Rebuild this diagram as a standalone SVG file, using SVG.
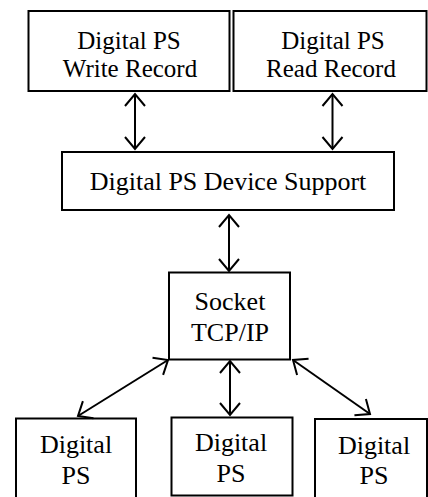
<svg xmlns="http://www.w3.org/2000/svg" width="428" height="497" viewBox="0 0 428 497">
<style>
.box{fill:#fff;stroke:#000;stroke-width:2}
.t{font-family:"Liberation Serif","Times New Roman",serif;font-size:26px;fill:#000;text-anchor:middle}
.t2{font-size:25px}
.c{stroke:#000;stroke-width:2;fill:none;marker-start:url(#ah);marker-end:url(#ah)}
</style>
<defs>
<marker id="ah" markerUnits="userSpaceOnUse" markerWidth="30" markerHeight="30" viewBox="-15 -15 30 30" refX="0" refY="0" orient="auto-start-reverse">
<path d="M-12,-10 L0,0 L-12,10" fill="none" stroke="#000" stroke-width="2"/>
</marker>
</defs>
<rect width="428" height="497" fill="#fff"/>
<g id="write-record">
<rect class="box" x="28.5" y="11" width="201" height="80"/>
<text class="t t2" x="129" y="49">Digital PS</text>
<text class="t t2" x="130" y="77">Write Record</text>
</g>
<g id="read-record">
<rect class="box" x="233.5" y="11" width="193" height="80"/>
<text class="t t2" x="333" y="49">Digital PS</text>
<text class="t t2" x="331" y="77">Read Record</text>
</g>
<g id="device-support">
<rect class="box" x="62" y="152" width="332" height="58"/>
<text class="t" x="228" y="190">Digital PS Device Support</text>
</g>
<g id="socket">
<rect class="box" x="169" y="272.5" width="121" height="87"/>
<text class="t" x="230" y="310">Socket</text>
<text class="t" x="230" y="341">TCP/IP</text>
</g>
<g id="ps1">
<rect class="box" x="16" y="418.5" width="120" height="85"/>
<text class="t" x="76" y="453">Digital</text>
<text class="t" x="76" y="484">PS</text>
</g>
<g id="ps2">
<rect class="box" x="171.5" y="417.5" width="121" height="78"/>
<text class="t" x="231" y="451">Digital</text>
<text class="t" x="231" y="482">PS</text>
</g>
<g id="ps3">
<rect class="box" x="315" y="419" width="112" height="85"/>
<text class="t" x="374" y="454">Digital</text>
<text class="t" x="374" y="484">PS</text>
</g>
<g id="connectors">
<line class="c" x1="135" y1="94" x2="135" y2="149"/>
<line class="c" x1="332.5" y1="94" x2="332.5" y2="149"/>
<line class="c" x1="229" y1="215" x2="229" y2="271"/>
<line class="c" x1="230" y1="361" x2="230" y2="415"/>
<line class="c" x1="168" y1="360" x2="78" y2="416"/>
<line class="c" x1="293" y1="360" x2="370" y2="414"/>
</g>
</svg>
